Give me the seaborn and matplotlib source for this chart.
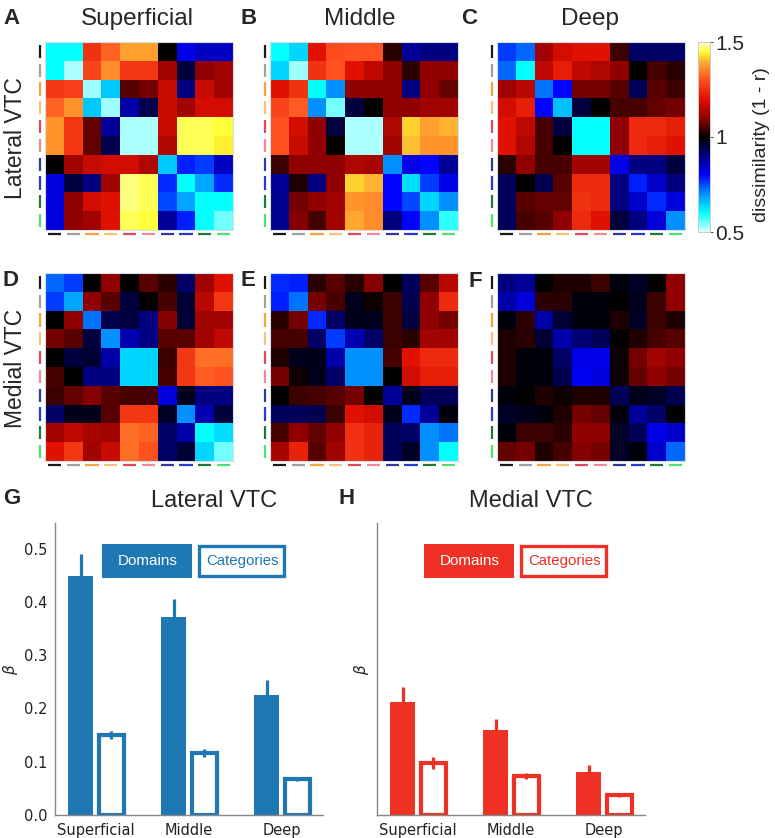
import numpy as np
import pandas as pd
import matplotlib
matplotlib.use('Agg')
import matplotlib.pyplot as plt
from matplotlib.colors import LinearSegmentedColormap
from matplotlib.patches import Rectangle
import seaborn as sns

sns.set_style('white')
plt.rcParams['font.family'] = ['DejaVu Sans']

# dissimilarity matrices (1 - r), rows/cols = 10 stimulus categories
lat_superficial = [
    [0.60, 0.60, 1.25, 1.32, 1.38, 1.38, 1.00, 0.82, 0.85, 0.85],
    [0.60, 0.52, 1.28, 1.36, 1.26, 1.26, 1.12, 0.95, 1.10, 1.12],
    [1.26, 1.27, 0.53, 0.65, 1.06, 1.08, 1.17, 0.90, 1.17, 1.12],
    [1.32, 1.37, 0.65, 0.53, 0.87, 0.94, 1.17, 1.12, 1.18, 1.18],
    [1.37, 1.26, 1.07, 0.88, 0.52, 0.52, 1.17, 1.46, 1.46, 1.45],
    [1.37, 1.26, 1.07, 0.94, 0.52, 0.52, 1.14, 1.46, 1.46, 1.44],
    [1.00, 1.12, 1.17, 1.18, 1.18, 1.14, 0.65, 0.78, 0.76, 0.85],
    [0.83, 0.95, 0.90, 1.12, 1.47, 1.46, 0.77, 0.60, 0.68, 0.77],
    [0.83, 1.10, 1.18, 1.20, 1.47, 1.46, 0.75, 0.68, 0.60, 0.60],
    [0.83, 1.10, 1.12, 1.20, 1.46, 1.45, 0.88, 0.78, 0.60, 0.55],
]
lat_middle = [
    [0.60, 0.64, 1.20, 1.29, 1.30, 1.30, 1.03, 0.88, 0.90, 0.90],
    [0.64, 0.53, 1.25, 1.30, 1.20, 1.16, 1.10, 1.03, 1.10, 1.10],
    [1.20, 1.25, 0.60, 0.70, 1.10, 1.10, 1.10, 0.90, 1.10, 1.07],
    [1.28, 1.31, 0.70, 0.55, 0.95, 1.00, 1.10, 1.10, 1.12, 1.12],
    [1.30, 1.18, 1.10, 0.95, 0.52, 0.52, 1.14, 1.42, 1.38, 1.40],
    [1.30, 1.17, 1.10, 1.00, 0.52, 0.52, 1.12, 1.41, 1.37, 1.37],
    [1.04, 1.10, 1.10, 1.10, 1.14, 1.13, 0.70, 0.82, 0.80, 0.88],
    [0.88, 1.02, 0.90, 1.10, 1.42, 1.40, 0.80, 0.63, 0.76, 0.82],
    [0.89, 1.08, 1.10, 1.12, 1.37, 1.36, 0.80, 0.75, 0.64, 0.70],
    [0.89, 1.09, 1.05, 1.12, 1.39, 1.36, 0.90, 0.80, 0.70, 0.58],
]
lat_deep = [
    [0.76, 0.73, 1.12, 1.18, 1.20, 1.20, 1.04, 0.92, 0.92, 0.92],
    [0.73, 0.60, 1.16, 1.22, 1.16, 1.14, 1.10, 1.00, 1.05, 1.03],
    [1.12, 1.15, 0.72, 0.80, 1.08, 1.08, 1.06, 0.93, 1.06, 1.04],
    [1.18, 1.22, 0.80, 0.66, 0.95, 1.00, 1.05, 1.05, 1.07, 1.08],
    [1.20, 1.16, 1.05, 0.95, 0.60, 0.60, 1.10, 1.24, 1.24, 1.22],
    [1.20, 1.14, 1.05, 1.00, 0.60, 0.60, 1.10, 1.24, 1.22, 1.20],
    [1.03, 1.10, 1.05, 1.05, 1.12, 1.12, 0.82, 0.90, 0.90, 0.95],
    [0.93, 1.00, 0.94, 1.06, 1.24, 1.24, 0.90, 0.78, 0.84, 0.90],
    [0.93, 1.06, 1.07, 1.07, 1.25, 1.24, 0.90, 0.84, 0.77, 0.83],
    [0.93, 1.05, 1.06, 1.10, 1.24, 1.20, 0.95, 0.90, 0.83, 0.70],
]
med_superficial = [
    [0.73, 0.76, 1.00, 1.10, 1.00, 1.06, 1.03, 0.92, 1.12, 1.20],
    [0.76, 0.68, 1.10, 1.06, 0.95, 1.00, 1.05, 0.96, 1.15, 1.26],
    [1.00, 1.10, 0.72, 0.94, 0.95, 0.90, 1.09, 0.96, 1.12, 1.12],
    [1.08, 1.06, 0.95, 0.70, 0.86, 0.90, 1.06, 1.06, 1.12, 1.16],
    [1.00, 0.95, 0.96, 0.87, 0.64, 0.64, 1.04, 1.26, 1.33, 1.33],
    [1.05, 1.00, 0.90, 0.90, 0.64, 0.64, 1.05, 1.26, 1.31, 1.30],
    [1.04, 1.07, 1.09, 1.06, 1.05, 1.05, 0.83, 0.98, 0.90, 0.90],
    [0.92, 0.98, 0.98, 1.06, 1.26, 1.26, 0.97, 0.70, 0.86, 0.95],
    [1.12, 1.16, 1.13, 1.12, 1.33, 1.32, 0.92, 0.87, 0.60, 0.63],
    [1.20, 1.26, 1.12, 1.17, 1.33, 1.30, 0.92, 0.96, 0.64, 0.55],
]
med_middle = [
    [0.77, 0.78, 1.03, 1.06, 1.03, 1.09, 1.00, 0.93, 1.06, 1.15],
    [0.78, 0.72, 1.08, 1.05, 0.98, 1.01, 1.04, 0.94, 1.10, 1.24],
    [1.03, 1.08, 0.77, 0.92, 0.98, 0.98, 1.04, 0.95, 1.10, 1.08],
    [1.05, 1.05, 0.92, 0.76, 0.86, 0.92, 1.04, 1.03, 1.12, 1.12],
    [1.02, 0.98, 0.98, 0.87, 0.70, 0.70, 1.05, 1.20, 1.24, 1.24],
    [1.08, 1.01, 0.98, 0.92, 0.70, 0.70, 1.00, 1.18, 1.22, 1.22],
    [1.00, 1.04, 1.05, 1.06, 1.08, 1.00, 0.88, 0.98, 0.93, 0.93],
    [0.93, 0.93, 0.94, 1.04, 1.20, 1.18, 0.98, 0.77, 0.88, 0.99],
    [1.05, 1.10, 1.07, 1.10, 1.25, 1.23, 0.93, 0.92, 0.70, 0.72],
    [1.13, 1.23, 1.06, 1.12, 1.25, 1.23, 0.93, 0.97, 0.70, 0.60],
]
med_deep = [
    [0.90, 0.88, 1.00, 1.02, 1.02, 1.04, 0.99, 0.97, 1.00, 1.10],
    [0.87, 0.83, 1.03, 1.03, 0.99, 0.99, 1.00, 0.98, 1.04, 1.10],
    [0.99, 1.03, 0.87, 0.96, 0.99, 0.99, 1.02, 0.97, 1.04, 1.02],
    [1.02, 1.03, 0.96, 0.87, 0.91, 0.93, 1.00, 1.02, 1.05, 1.06],
    [1.02, 0.99, 0.99, 0.92, 0.82, 0.82, 1.01, 1.08, 1.12, 1.10],
    [1.02, 0.99, 0.99, 0.94, 0.81, 0.83, 1.01, 1.07, 1.10, 1.08],
    [0.99, 1.00, 1.02, 1.01, 1.02, 1.02, 0.93, 0.98, 0.97, 0.94],
    [0.97, 0.98, 0.99, 1.02, 1.08, 1.07, 0.99, 0.88, 0.92, 1.00],
    [0.99, 1.04, 1.04, 1.03, 1.10, 1.10, 0.97, 0.93, 0.82, 0.84],
    [1.07, 1.08, 1.02, 1.05, 1.09, 1.08, 0.97, 0.99, 0.84, 0.73],
]

category_colors = ['#1a1a1a', '#a0a0a0', '#f4a340', '#f6c27a', '#e0485e',
                   '#ef8a96', '#2d3a9a', '#2a3ad0', '#1f7a3a', '#4fe070']

layers = ['Superficial', 'Middle', 'Deep']
lat_domains = [0.449, 0.372, 0.226]
lat_domains_err = [0.041, 0.033, 0.027]
lat_categories = [0.150, 0.116, 0.067]
lat_categories_err = [0.008, 0.007, 0.003]
med_domains = [0.212, 0.160, 0.080]
med_domains_err = [0.029, 0.021, 0.014]
med_categories = [0.098, 0.073, 0.037]
med_categories_err = [0.011, 0.006, 0.004]

W, H = 775, 838
fig = plt.figure(figsize=(W / 100, H / 100), dpi=100)


def rect(x0, y0, x1, y1):
    # pixel box (top-left origin) -> figure fraction
    return [x0 / W, 1 - y1 / H, (x1 - x0) / W, (y1 - y0) / H]


def ftext(x, y, s, **kw):
    fig.text(x / W, 1 - y / H, s, **kw)


cmap = LinearSegmentedColormap.from_list('coldhot', [
    (0.00, '#d8ffff'), (0.10, '#00ffff'), (0.20, '#0090ff'), (0.30, '#0000ff'),
    (0.40, '#000080'), (0.50, '#000000'), (0.60, '#900000'), (0.70, '#e01000'),
    (0.80, '#ff5020'), (0.90, '#ffb030'), (0.95, '#ffff30'), (1.00, '#ffffe0')])

sans = ['Liberation Sans', 'DejaVu Sans']

cax = fig.add_axes(rect(698, 42, 710, 232))
mats = [lat_superficial, lat_middle, lat_deep, med_superficial, med_middle, med_deep]
xs = [45, 270, 497]
ys = [42, 273]
for k, m in enumerate(mats):
    r, c = divmod(k, 3)
    ax = fig.add_axes(rect(xs[c], ys[r], xs[c] + 188, ys[r] + 188))
    sns.heatmap(np.array(m), ax=ax, cmap=cmap, vmin=0.5, vmax=1.5,
                xticklabels=False, yticklabels=False,
                cbar=(k == 2), cbar_ax=cax if k == 2 else None,
                cbar_kws={'ticks': [0.5, 1, 1.5]} if k == 2 else {})
    for s in ax.spines.values():
        s.set_visible(True)
        s.set_color('#d5dde5')
        s.set_linewidth(0.8)
    for i, col in enumerate(category_colors):
        ax.plot([-0.27, -0.27], [i + 0.15, i + 0.85], color=col, lw=1.6,
                clip_on=False, solid_capstyle='butt')
        ax.plot([i + 0.15, i + 0.85], [10.2, 10.2], color=col, lw=1.6,
                clip_on=False, solid_capstyle='butt')

cax.set_yticklabels(['0.5', '1', '1.5'], fontsize=15, family=sans)
cax.tick_params(length=2, width=0.6, pad=2)
cax.set_ylabel('dissimilarity (1 - r)', fontsize=14, family=sans, labelpad=10)
cax.yaxis.set_label_coords(4.6, 0.46)
for s in cax.spines.values():
    s.set_visible(True)
    s.set_color('#cccccc')
    s.set_linewidth(0.6)

# heatmap titles and labels
ftext(137, 25, 'Superficial', ha='center', va='baseline', fontsize=17.5, family=sans)
ftext(360, 25, 'Middle', ha='center', va='baseline', fontsize=17.5, family=sans)
ftext(590, 25, 'Deep', ha='center', va='baseline', fontsize=17.5, family=sans)
ftext(16, 138, 'Lateral VTC', ha='center', va='center', rotation=90, fontsize=16.5, family=sans)
ftext(16, 368, 'Medial VTC', ha='center', va='center', rotation=90, fontsize=16.5, family=sans)
for letter, (x, y) in zip('ABCDEFGH', [(3, 8), (241, 8), (461, 8), (3, 270), (240, 270),
                                      (469, 271), (3, 488), (338, 488)]):
    ftext(x, y, letter, ha='left', va='top', fontsize=16, fontweight='bold', family=sans)

# bar charts
panels = [
    ('Lateral VTC', '#1f77b4', lat_domains, lat_domains_err, lat_categories, lat_categories_err, 55, 214),
    ('Medial VTC', '#ee3124', med_domains, med_domains_err, med_categories, med_categories_err, 377, 531),
]
for j, (title, color, dom, dom_err, cat, cat_err, x0, tx) in enumerate(panels):
    ax = fig.add_axes(rect(x0, 523, x0 + 268, 815))
    df = pd.DataFrame({
        'layer': layers * 2,
        'beta': dom + cat,
        'kind': ['Domains'] * 3 + ['Categories'] * 3,
    })
    sns.barplot(data=df, x='layer', y='beta', hue='kind', order=layers,
                hue_order=['Domains', 'Categories'], palette=[color, color],
                saturation=1, width=0.66, gap=0.2, errorbar=None, legend=False, ax=ax)
    for bars, errs, hollow in [(ax.containers[0], dom_err, False),
                               (ax.containers[1], cat_err, True)]:
        for bar, e in zip(bars, errs):
            if hollow:
                bar.set_facecolor('white')
                bar.set_edgecolor(color)
                bar.set_linewidth(3)
            else:
                bar.set_facecolor(color)
                bar.set_linewidth(0)
            xc = bar.get_x() + bar.get_width() / 2
            ax.errorbar(xc, bar.get_height(), yerr=e, fmt='none', ecolor=color,
                        elinewidth=2.3, capsize=0, zorder=3)
    ax.set_xlim(-0.44, 2.44)
    ax.set_ylim(0, 0.548)
    ax.set_yticks([0, 0.1, 0.2, 0.3, 0.4, 0.5])
    ax.set_xlabel('')
    ax.set_ylabel(r'$\beta$', fontsize=11, labelpad=3)
    sns.despine(ax=ax)
    for s in ['left', 'bottom']:
        ax.spines[s].set_color('#888888')
        ax.spines[s].set_linewidth(1)
    ax.tick_params(axis='both', colors='#888888', labelcolor='#222222',
                   labelsize=10.5, length=3.5, width=0.8, pad=2)
    if j == 1:
        ax.tick_params(axis='y', labelleft=False)
        ax.set_ylabel(r'$\beta$', fontsize=11, labelpad=4)
    # box legend
    ax.add_patch(Rectangle((0.177, 0.812), 0.336, 0.116, transform=ax.transAxes,
                           facecolor=color, edgecolor='none', clip_on=False))
    ax.text(0.345, 0.870, 'Domains', transform=ax.transAxes, ha='center', va='center',
            color='white', fontsize=11, family=sans)
    ax.add_patch(Rectangle((0.536, 0.818), 0.320, 0.104, transform=ax.transAxes,
                           facecolor='white', edgecolor=color, linewidth=2.4, clip_on=False))
    ax.text(0.698, 0.870, 'Categories', transform=ax.transAxes, ha='center', va='center',
            color=color, fontsize=10.8, family=sans)
    ftext(tx, 507, title, ha='center', va='baseline', fontsize=17, family=sans)

fig.savefig('out.png', dpi=100)
